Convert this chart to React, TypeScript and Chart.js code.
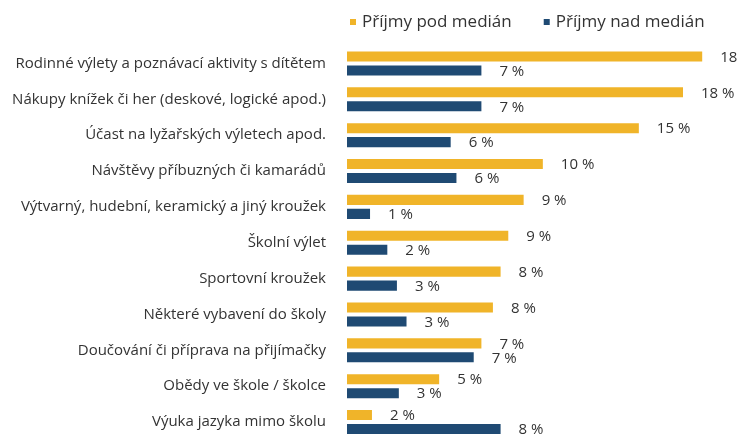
import React, { useEffect, useRef } from "react";
import { Chart, registerables } from "chart.js";

Chart.register(...registerables);

const categories = [
  "Rodinné výlety a poznávací aktivity s dítětem",
  "Nákupy knížek či her (deskové, logické apod.)",
  "Účast na lyžařských výletech apod.",
  "Návštěvy příbuzných či kamarádů",
  "Výtvarný, hudební, keramický a jiný kroužek",
  "Školní výlet",
  "Sportovní kroužek",
  "Některé vybavení do školy",
  "Doučování či příprava na přijímačky",
  "Obědy ve škole / školce",
  "Výuka jazyka mimo školu",
];

const seriesNames = ["Příjmy pod medián", "Příjmy nad medián"];

const belowMedian = [18.5, 17.5, 15.2, 10.2, 9.2, 8.4, 8.0, 7.6, 7.0, 4.8, 1.3];
const aboveMedian = [7.0, 7.0, 5.4, 5.7, 1.2, 2.1, 2.6, 3.1, 6.6, 2.7, 8.0];

const belowLabels = ["18 %", "18 %", "15 %", "10 %", "9 %", "9 %", "8 %", "8 %", "7 %", "5 %", "2 %"];
const aboveLabels = ["7 %", "7 %", "6 %", "6 %", "1 %", "2 %", "3 %", "3 %", "7 %", "3 %", "8 %"];

const colors = ["#F0B429", "#1F4A73"];
const textColor = "#333333";
const fontFamily = "'Open Sans', 'Noto Sans', sans-serif";

const valueLabelsPlugin = {
  id: "valueLabels",
  afterDatasetsDraw(chart: any) {
    const ctx = chart.ctx;
    const labelSets = [belowLabels, aboveLabels];
    ctx.save();
    ctx.font = `15px ${fontFamily}`;
    ctx.fillStyle = textColor;
    ctx.textAlign = "left";
    ctx.textBaseline = "middle";
    chart.data.datasets.forEach((_: any, di: number) => {
      const meta = chart.getDatasetMeta(di);
      meta.data.forEach((bar: any, i: number) => {
        ctx.fillText(labelSets[di][i], bar.x + 18, bar.y + 1);
      });
    });
    ctx.restore();
  },
};

const customLegendPlugin = {
  id: "customLegend",
  afterDraw(chart: any) {
    const ctx = chart.ctx;
    const left = chart.chartArea.left + 3;
    const y = 22;
    ctx.save();
    ctx.font = `17px ${fontFamily}`;
    ctx.textBaseline = "middle";
    ctx.textAlign = "left";
    let x = left;
    seriesNames.forEach((name, i) => {
      ctx.fillStyle = colors[i];
      ctx.fillRect(x, y - 3, 6, 6);
      ctx.fillStyle = textColor;
      ctx.fillText(name, x + 12, y);
      x += 12 + ctx.measureText(name).width + 32;
    });
    ctx.restore();
  },
};

export default function App() {
  const canvasRef = useRef<HTMLCanvasElement | null>(null);

  useEffect(() => {
    if (!canvasRef.current) return;
    const chart = new Chart(canvasRef.current, {
      type: "bar",
      data: {
        labels: categories,
        datasets: [
          {
            label: seriesNames[0],
            data: belowMedian,
            backgroundColor: colors[0],
            categoryPercentage: 0.78,
            barPercentage: 0.72,
          },
          {
            label: seriesNames[1],
            data: aboveMedian,
            backgroundColor: colors[1],
            categoryPercentage: 0.78,
            barPercentage: 0.72,
          },
        ],
      },
      options: {
        indexAxis: "y",
        responsive: false,
        animation: false,
        devicePixelRatio: 1,
        layout: { padding: { top: 45.5, bottom: 17.5, left: 0, right: 10 } },
        plugins: {
          legend: { display: false },
          tooltip: { enabled: false },
        },
        scales: {
          x: {
            display: false,
            min: 0,
            max: 20,
          },
          y: {
            grid: { display: false, drawTicks: false },
            border: { display: false },
            ticks: {
              padding: 21,
              color: textColor,
              font: { family: fontFamily, size: 15 },
            },
            afterFit(scale: any) {
              scale.width = 347;
            },
          },
        },
      },
      plugins: [valueLabelsPlugin, customLegendPlugin],
    });
    return () => chart.destroy();
  }, []);

  return (
    <div
      style={{
        position: "fixed",
        left: 0,
        top: 0,
        width: 741,
        height: 446,
        overflow: "hidden",
        background: "#ffffff",
      }}
    >
      <canvas ref={canvasRef} width={741} height={470} style={{ display: "block" }} />
    </div>
  );
}
